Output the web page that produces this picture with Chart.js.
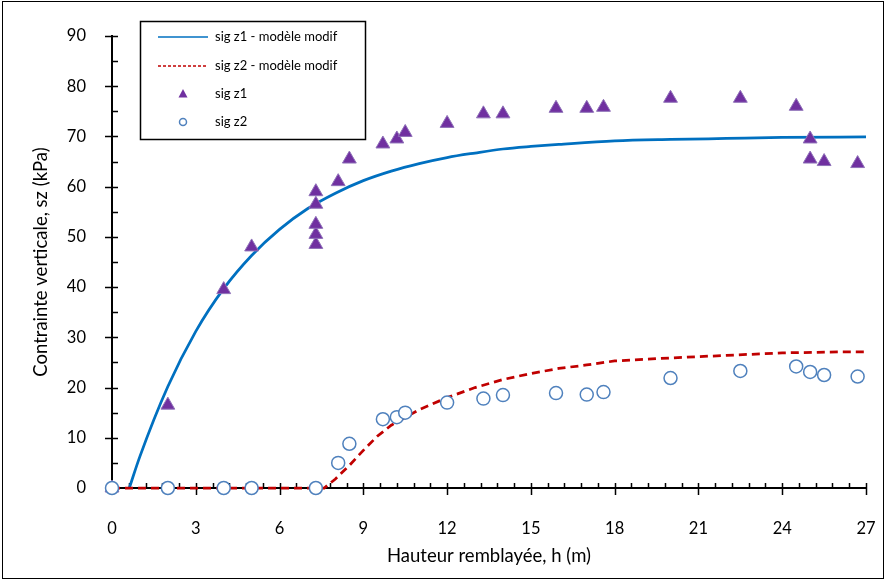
<!DOCTYPE html>
<html>
<head>
<meta charset="utf-8">
<script src="https://cdn.jsdelivr.net/npm/chart.js@4"></script>
<style>
  body { margin: 0; background: #fff; }
  #wrap { width: 886px; height: 581px; }
</style>
</head>
<body>
<div id="wrap"><canvas id="myChart" width="886" height="581"></canvas></div>
<script>
// measured points
const hMes = [0, 2, 4, 5, 7.3, 7.3, 7.3, 7.3, 7.3, 8.1, 8.5, 9.7, 10.2, 10.5, 12, 13.3, 14, 15.9, 17, 17.6, 20, 22.5, 24.5, 25, 25, 25.5, 26.7];
const sigZ1 = [0, 16.5, 39.5, 48, 48.5, 50.5, 52.5, 56.5, 59, 61, 65.5, 68.5, 69.5, 70.8, 72.6, 74.5, 74.5, 75.6, 75.6, 75.8, 77.6, 77.6, 76, 69.5, 65.5, 65, 64.6];

const hMes2 = [0, 2, 4, 5, 7.3, 8.1, 8.5, 9.7, 10.2, 10.5, 12, 13.3, 14, 15.9, 17, 17.6, 20, 22.5, 24.5, 25, 25.5, 26.7];
const sigZ2 = [0, 0, 0, 0, 0, 5, 8.8, 13.7, 14.1, 15, 17, 17.8, 18.5, 18.9, 18.6, 19.1, 21.9, 23.3, 24.2, 23.1, 22.5, 22.2];

// model curves
const hMod1 = [0.62, 1, 2, 3, 4, 5, 6, 7, 8, 9, 10, 11, 12, 13, 14, 15, 16, 18, 20, 22, 24, 27];
const sigZ1Mod = [0, 6.3, 20.2, 31.2, 39.7, 46.3, 51.5, 55.6, 58.7, 61.2, 63.1, 64.6, 65.8, 66.7, 67.5, 68.0, 68.4, 69.1, 69.4, 69.6, 69.8, 69.9];

const hMod2 = [0, 7.6, 8, 8.5, 9, 9.5, 10, 11, 12, 13, 14, 15, 16, 17, 18, 20, 22, 24, 26, 27];
const sigZ2Mod = [0, 0, 1.8, 4.5, 7.5, 10.3, 12.5, 15.6, 18, 20, 21.6, 22.8, 23.8, 24.5, 25.3, 25.9, 26.4, 26.9, 27.1, 27.1];

const xTicks = [0, 3, 6, 9, 12, 15, 18, 21, 24, 27];
const yTicks = [0, 10, 20, 30, 40, 50, 60, 70, 80, 90];

const pts = (xs, ys) => xs.map((x, i) => ({ x: x, y: ys[i] }));
const FONT = 'Lato, "Open Sans", sans-serif';

// minor + major tick marks like the original
const tickMarks = {
  id: 'tickMarks',
  beforeDatasetsDraw(chart) {
    const { ctx, scales: { x, y } } = chart;
    const y0 = y.getPixelForValue(0);
    const x0 = x.getPixelForValue(0);
    ctx.save();
    ctx.strokeStyle = '#000';
    ctx.lineWidth = 1.5;
    ctx.beginPath();
    for (let v = 0; v <= 27.001; v += 0.6) {
      const px = Math.round(x.getPixelForValue(v)) + 0.5;
      const major = Math.abs(v / 3 - Math.round(v / 3)) < 1e-6;
      ctx.moveTo(px, y0 - 5);
      ctx.lineTo(px, major ? y0 + 7 : y0);
    }
    for (let v = 0; v <= 90; v += 5) {
      const py = Math.round(y.getPixelForValue(v)) + 0.5;
      const major = v % 10 === 0;
      ctx.moveTo(major ? x0 - 7 : x0, py);
      ctx.lineTo(x0 + 6, py);
    }
    ctx.stroke();
    ctx.restore();
  }
};

const legendBox = {
  id: 'legendBox',
  afterDraw(chart) {
    const ctx = chart.ctx;
    ctx.save();
    // outer frame
    ctx.strokeStyle = '#000';
    ctx.lineWidth = 1;
    ctx.strokeRect(2.5, 1.5, 881, 577);
    // legend
    ctx.fillStyle = '#fff';
    ctx.fillRect(140, 21, 226, 119);
    ctx.strokeStyle = '#000';
    ctx.lineWidth = 1.5;
    ctx.strokeRect(140.5, 21.5, 225, 118);
    const rows = [37, 66, 94, 122];
    const labels = ['sig z1 - modèle modif', 'sig z2 - modèle modif', 'sig z1', 'sig z2'];
    ctx.font = '13px ' + FONT;
    ctx.fillStyle = '#000';
    ctx.textBaseline = 'middle';
    labels.forEach((t, i) => ctx.fillText(t, 215, rows[i]));
    ctx.lineWidth = 1.5;
    ctx.strokeStyle = '#0070C0';
    ctx.beginPath(); ctx.moveTo(158, rows[0]); ctx.lineTo(208, rows[0]); ctx.stroke();
    ctx.strokeStyle = '#C00000';
    ctx.setLineDash([3, 2]);
    ctx.beginPath(); ctx.moveTo(158, rows[1]); ctx.lineTo(208, rows[1]); ctx.stroke();
    ctx.setLineDash([]);
    ctx.fillStyle = '#7030A0';
    ctx.beginPath();
    ctx.moveTo(183, rows[2] - 5); ctx.lineTo(187.5, rows[2] + 3.5); ctx.lineTo(178.5, rows[2] + 3.5);
    ctx.closePath(); ctx.fill();
    ctx.strokeStyle = '#4F81BD';
    ctx.lineWidth = 1.5;
    ctx.beginPath(); ctx.arc(183, rows[3], 3.5, 0, Math.PI * 2); ctx.stroke();
    ctx.restore();
  }
};

new Chart(document.getElementById('myChart'), {
  type: 'scatter',
  data: {
    datasets: [
      {
        label: 'sig z2',
        data: pts(hMes2, sigZ2),
        order: 0,
        pointStyle: 'circle',
        pointRadius: 6.5,
        pointBackgroundColor: '#fff',
        pointBorderColor: '#4F81BD',
        pointBorderWidth: 1.5,
        clip: false
      },
      {
        label: 'sig z1',
        data: pts(hMes, sigZ1),
        order: 1,
        pointStyle: 'triangle',
        pointRadius: 8,
        pointBackgroundColor: '#7030A0',
        pointBorderColor: '#8F72B8',
        pointBorderWidth: 1,
        clip: false
      },
      {
        label: 'sig z2 - modèle modif',
        data: pts(hMod2, sigZ2Mod),
        order: 2,
        showLine: true,
        borderColor: '#C00000',
        borderWidth: 2.75,
        borderDash: [8, 5],
        pointRadius: 0,
        tension: 0,
        clip: false
      },
      {
        label: 'sig z1 - modèle modif',
        data: pts(hMod1, sigZ1Mod),
        order: 3,
        showLine: true,
        borderColor: '#0070C0',
        borderWidth: 2.75,
        pointRadius: 0,
        cubicInterpolationMode: 'monotone',
        clip: false
      }
    ]
  },
  options: {
    animation: false,
    responsive: false,
    layout: { padding: { left: 26, right: 20, top: 36, bottom: 10 } },
    plugins: { legend: { display: false }, tooltip: { enabled: false } },
    scales: {
      x: {
        type: 'linear',
        min: 0, max: 27,
        afterFit: (s) => { s.height = 83; s.paddingLeft = 0; s.paddingRight = 0; },
        afterBuildTicks: (s) => { s.ticks = xTicks.map(v => ({ value: v })); },
        grid: { display: false },
        border: { display: true, color: '#000', width: 2 },
        ticks: { padding: 23, color: '#000', font: { family: FONT, size: 16.5 } },
        title: { display: true, text: 'Hauteur remblayée, h (m)', color: '#000', font: { family: FONT, size: 18.5 } }
      },
      y: {
        type: 'linear',
        min: 0, max: 90,
        afterFit: (s) => { s.width = 86; s.paddingTop = 0; s.paddingBottom = 0; },
        afterBuildTicks: (s) => { s.ticks = yTicks.map(v => ({ value: v })); },
        grid: { display: false },
        border: { display: true, color: '#000', width: 2 },
        ticks: { padding: 18, color: '#000', font: { family: FONT, size: 16.5 } },
        title: { display: true, text: 'Contrainte verticale, sz (kPa)', color: '#000', font: { family: FONT, size: 18.5 } }
      }
    }
  },
  plugins: [tickMarks, legendBox]
});
</script>
</body>
</html>
